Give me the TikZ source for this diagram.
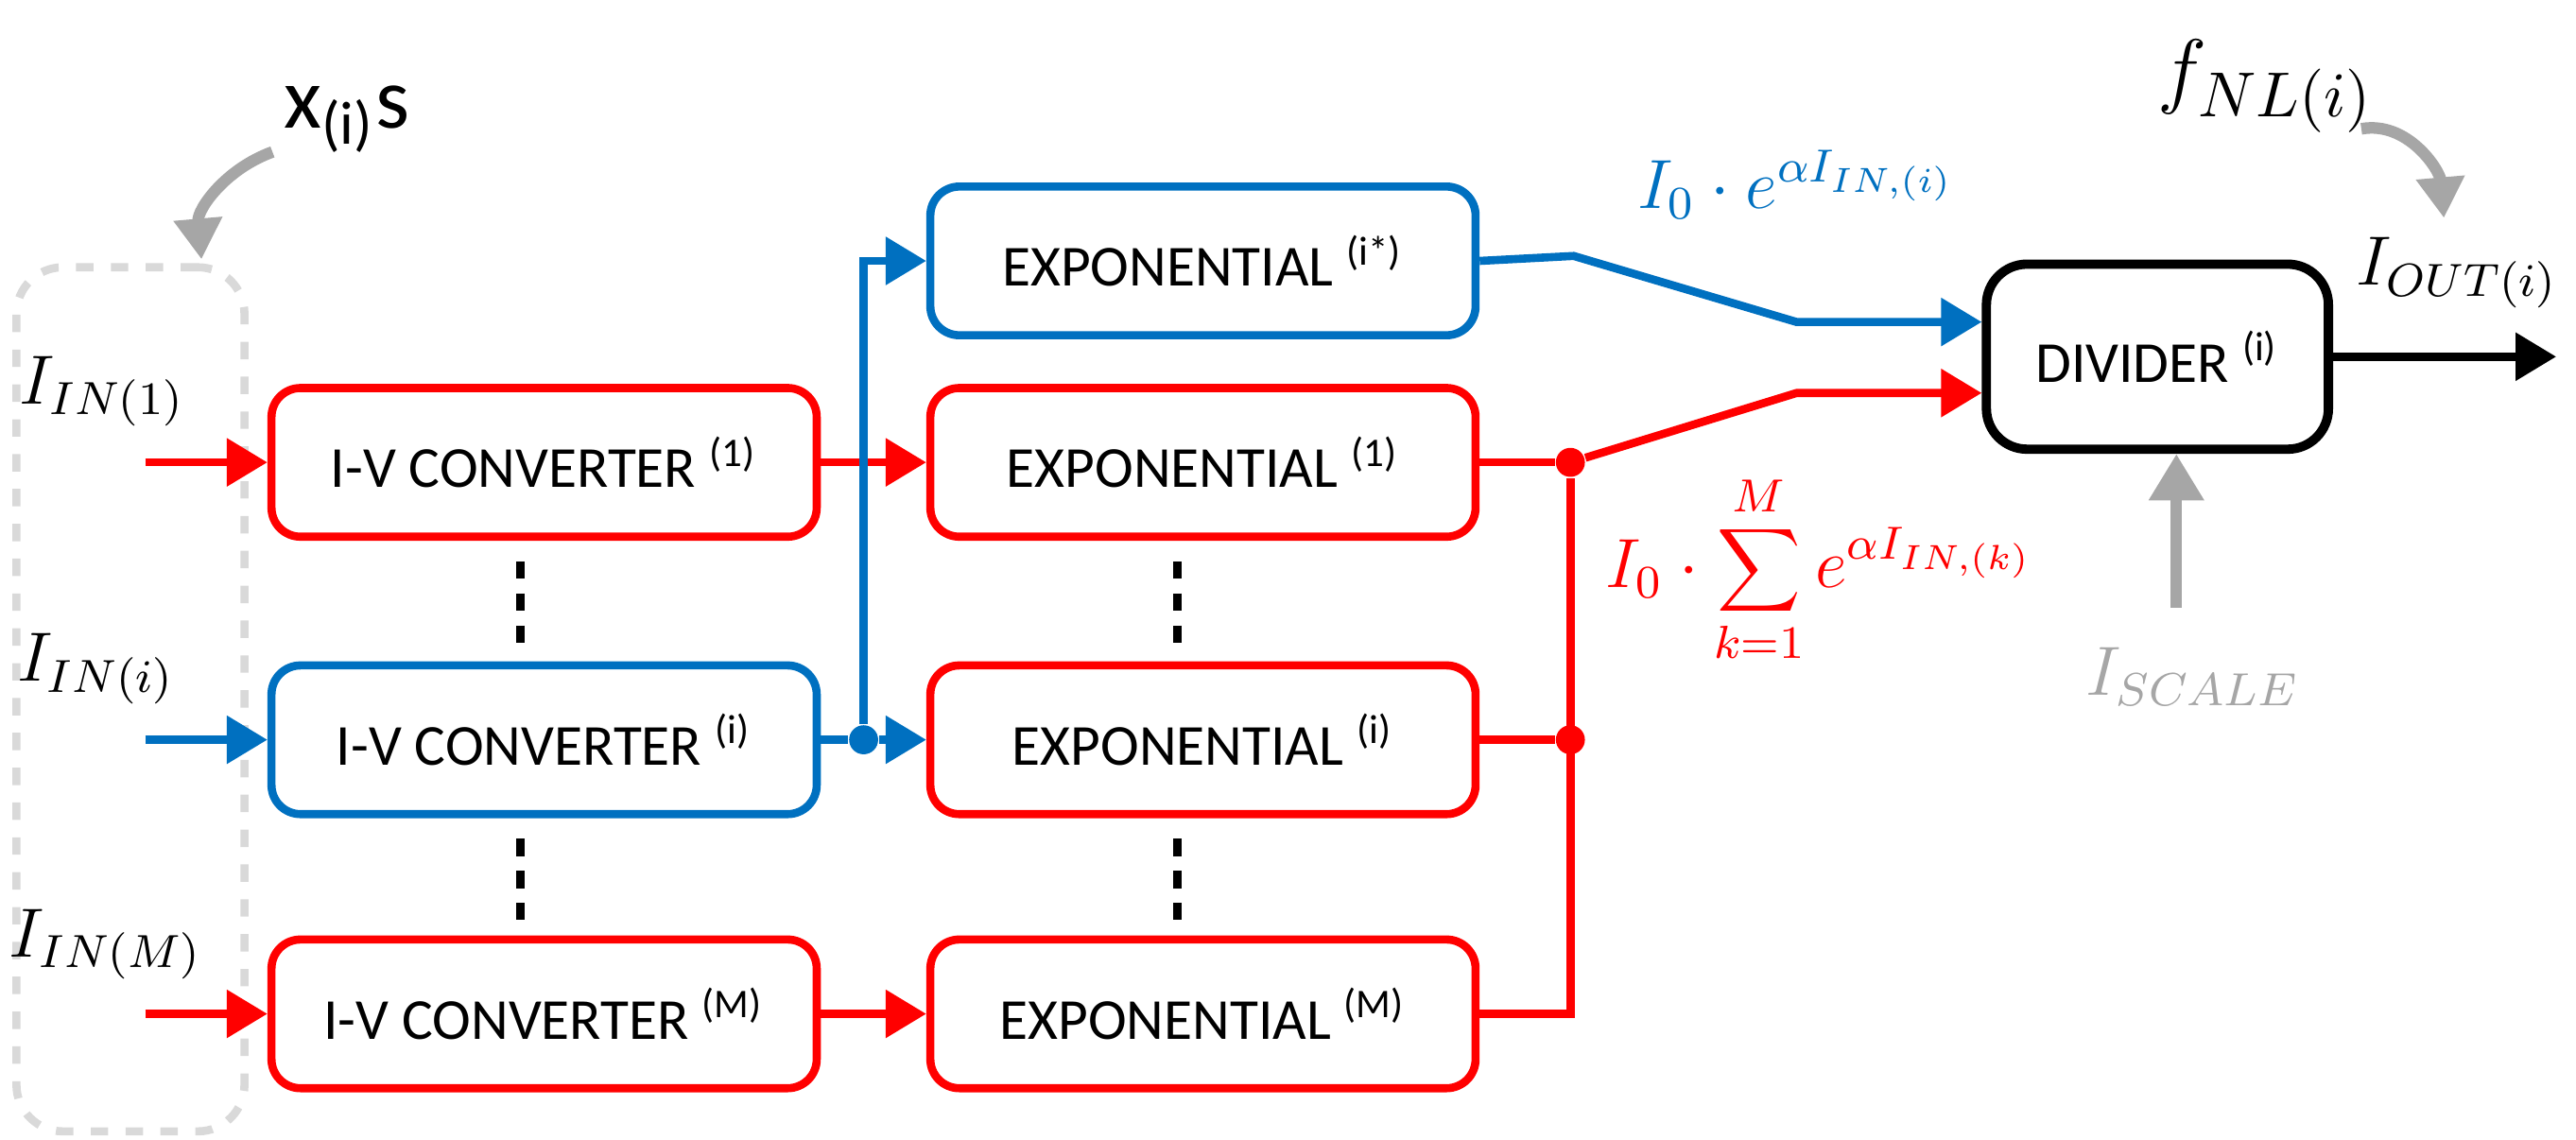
\documentclass[tikz,border=0pt]{standalone}
\usepackage{fontspec}
\setmainfont{Carlito}
\usetikzlibrary{arrows.meta}
\definecolor{myred}{RGB}{255,0,0}
\definecolor{myblue}{RGB}{0,112,192}
\definecolor{mygray}{RGB}{166,166,166}
\definecolor{lgray}{RGB}{217,217,217}
\begin{document}
\begin{tikzpicture}[x=0.01cm,y=-0.01cm,
  box/.style={draw,line width=1.4pt,rounded corners=5pt,minimum width=3.3cm,minimum height=0.9cm,font=\fontsize{10}{12}\selectfont,inner sep=0pt},
  rbox/.style={box,draw=myred},
  bbox/.style={box,draw=myblue},
  ln/.style={line width=1.4pt},
  arr/.style={ln,-{Triangle[length=7pt,width=8pt]}},
  dot/.style={circle,fill,inner sep=0pt,minimum size=5pt},
  lab/.style={font=\fontsize{12}{14}\selectfont}]
\useasboundingbox (0,0) rectangle (1560,690);
\node[draw=lgray,dashed,line width=1.4pt,rounded corners=8pt,minimum width=1.38cm,minimum height=5.23cm] (xs) at (79,423.5) {};
\node[font=\fontsize{15}{17}\selectfont] (xl) at (210,72) {x\textsubscript{(i)}s};
\draw[mygray,line width=2pt,-{Triangle[length=7pt,width=8pt]}] (165,92) to[out=200,in=95] (122,157);
% IV converters
\node[rbox] (c1) at (329.5,280) {I-V CONVERTER \textsuperscript{(1)}};
\node[bbox] (ci) at (329.5,448) {I-V CONVERTER \textsuperscript{(i)}};
\node[rbox] (cm) at (329.5,614) {I-V CONVERTER \textsuperscript{(M)}};
% exponentials
\node[bbox] (es) at (728.5,158) {EXPONENTIAL \textsuperscript{(i*)}};
\node[rbox] (e1) at (728.5,280) {EXPONENTIAL \textsuperscript{(1)}};
\node[rbox] (ei) at (728.5,448) {EXPONENTIAL \textsuperscript{(i)}};
\node[rbox] (em) at (728.5,614) {EXPONENTIAL \textsuperscript{(M)}};
\node[draw,line width=1.6pt,rounded corners=7pt,minimum width=2.07cm,minimum height=1.12cm,font=\fontsize{10}{12}\selectfont] (dv) at (1306.5,216) {DIVIDER \textsuperscript{(i)}};
% input labels and arrows
\node[lab] (l1) at (62,237) {$I_{IN(1)}$};
\node[lab] (li) at (58,405) {$I_{IN(i)}$};
\node[lab] (lm) at (64,572) {$I_{IN(M)}$};
\coordinate (a1) at (88,280); \coordinate (ai) at (88,448); \coordinate (am) at (88,614);
\draw[arr,myred] (a1) -- (c1.west);
\draw[arr,myblue] (ai) -- (ci.west);
\draw[arr,myred] (am) -- (cm.west);
\draw[arr,myred] (c1) -- (e1);
\draw[arr,myred] (cm) -- (em);
\node[dot,myblue] (bd) at (523,448) {};
\draw[ln,myblue] (ci.east) -- (bd);
\draw[arr,myblue] (bd) -- (ei.west);
\draw[arr,myblue] (bd) |- (es.west);
% dotted
\foreach \x in {315,713}{
 \draw[line width=1.5pt,dash pattern=on 3pt off 2.5pt] (\x,340) -- (\x,392);
 \draw[line width=1.5pt,dash pattern=on 3pt off 2.5pt] (\x,508) -- (\x,558);}
% red sum
\node[dot,myred] (r1) at (951,280) {};
\node[dot,myred] (ri) at (951,448) {};
\draw[ln,myred] (e1.east) -- (r1);
\draw[ln,myred] (ei.east) -- (ri);
\draw[ln,myred] (em.east) -| (r1);
\coordinate (rk) at (1088,238);
\draw[arr,myred] (r1) -- (rk) -- (dv.west |- rk);
% blue out
\coordinate (bk1) at (953,155); \coordinate (bk2) at (1088,195);
\draw[arr,myblue] (es.east) -- (bk1) -- (bk2) -- (dv.west |- bk2);
% labels
\node[lab,myblue] (bl) at (1088,112) {$I_0\cdot e^{\alpha I_{IN,(i)}}$};
\node[lab,myred] (rl) at (1102,345) {$I_0\cdot \displaystyle\sum_{k=1}^{M} e^{\alpha I_{IN,(k)}}$};
% output
\coordinate (out) at (1548,216);
\draw[arr,black] (dv.east) -- (out);
\node[lab] (lo) at (1488,165) {$I_{OUT(i)}$};
\node[font=\fontsize{15}{17}\selectfont] (fn) at (1372,52) {$f_{NL(i)}$};
\coordinate (fa) at (1480,132);
\draw[mygray,line width=2pt,-{Triangle[length=7pt,width=8pt]}] (1430,78) to[out=10,in=95] (fa);
\node[lab,mygray] (ls) at (1328,410) {$I_{SCALE}$};
\coordinate (sb) at (1318,368);
\draw[mygray,line width=2pt,-{Triangle[length=8pt,width=9pt]}] (sb) -- (dv.south -| sb);
\end{tikzpicture}
\end{document}
